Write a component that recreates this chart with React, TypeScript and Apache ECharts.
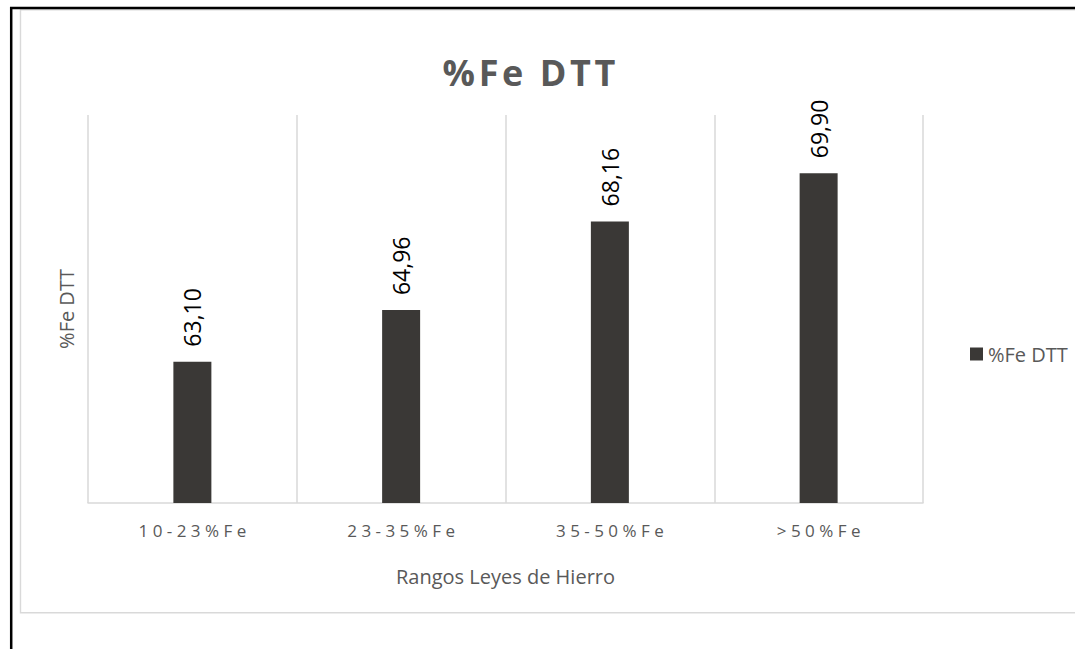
import React, { useEffect, useRef } from "react";
import * as echarts from "echarts";

const categories = ["10-23%Fe", "23-35%Fe", "35-50%Fe", ">50%Fe"];
const values = [63.1, 64.96, 68.16, 69.9];
const seriesName = "%Fe DTT";
const titleText = "%Fe DTT";
const xAxisTitle = "Rangos Leyes de Hierro";
const yAxisTitle = "%Fe DTT";

const FONT = "'Open Sans', sans-serif";
const GRAY = "#595959";

export default function App() {
  const ref = useRef<HTMLDivElement>(null);
  useEffect(() => {
    if (!ref.current) return;
    const chart = echarts.init(ref.current, undefined, { renderer: "svg" });
    chart.setOption({
      animation: false,
      backgroundColor: "#ffffff",
      title: {
        text: titleText.split("").join("\u200A"),
        left: 524,
        textAlign: "center",
        top: 49,
        textStyle: { fontFamily: FONT, fontSize: 36, fontWeight: "bold", color: GRAY },
      },
      legend: {
        data: [seriesName],
        left: 965,
        top: 339,
        icon: "rect",
        itemWidth: 13,
        itemHeight: 13,
        textStyle: { fontFamily: FONT, fontSize: 20, color: GRAY },
      },
      grid: { left: 88, right: 152, top: 115, bottom: 146 },
      xAxis: {
        type: "category",
        data: categories,
        name: xAxisTitle,
        nameLocation: "middle",
        nameGap: 63,
        nameTextStyle: { fontFamily: FONT, fontSize: 20, color: GRAY },
        axisLine: { show: true, lineStyle: { color: "#d9d9d9", width: 1.5 } },
        axisTick: { show: false },
        splitLine: { show: true, lineStyle: { color: "#d9d9d9", width: 1.5 } },
        axisLabel: {
          fontFamily: FONT,
          fontSize: 17,
          color: GRAY,
          margin: 19,
          formatter: (v: string) => v.split("").join(" "),
        },
      },
      yAxis: {
        type: "value",
        min: 58,
        max: 72,
        name: yAxisTitle,
        nameLocation: "middle",
        nameRotate: 90,
        nameGap: 12,
        nameTextStyle: { fontFamily: FONT, fontSize: 20, color: GRAY },
        axisLine: { show: false },
        axisTick: { show: false },
        axisLabel: { show: false },
        splitLine: { show: false },
      },
      series: [
        {
          name: seriesName,
          type: "bar",
          data: values,
          barWidth: 38,
          itemStyle: { color: "#3a3836" },
          label: {
            show: true,
            position: "top",
            rotate: 90,
            align: "left",
            verticalAlign: "middle",
            distance: 15,
            fontFamily: FONT,
            fontSize: 23,
            color: "#000000",
            formatter: (p: any) => p.value.toFixed(2).replace(".", ","),
          },
        },
      ],
      graphic: [
        {
          type: "rect",
          shape: { x: 20.5, y: 9.8, width: 2000, height: 603 },
          style: { fill: "none", stroke: "#d9d9d9", lineWidth: 1.4 },
          silent: true,
        },
        {
          type: "rect",
          shape: { x: 11.2, y: 7.9, width: 2000, height: 2000 },
          style: { fill: "none", stroke: "#000000", lineWidth: 2.5 },
          silent: true,
        },
      ],
    });
    return () => chart.dispose();
  }, []);
  return (
    <div
      ref={ref}
      style={{ position: "fixed", left: 0, top: 0, width: 1075, height: 649, background: "#fff" }}
    />
  );
}
